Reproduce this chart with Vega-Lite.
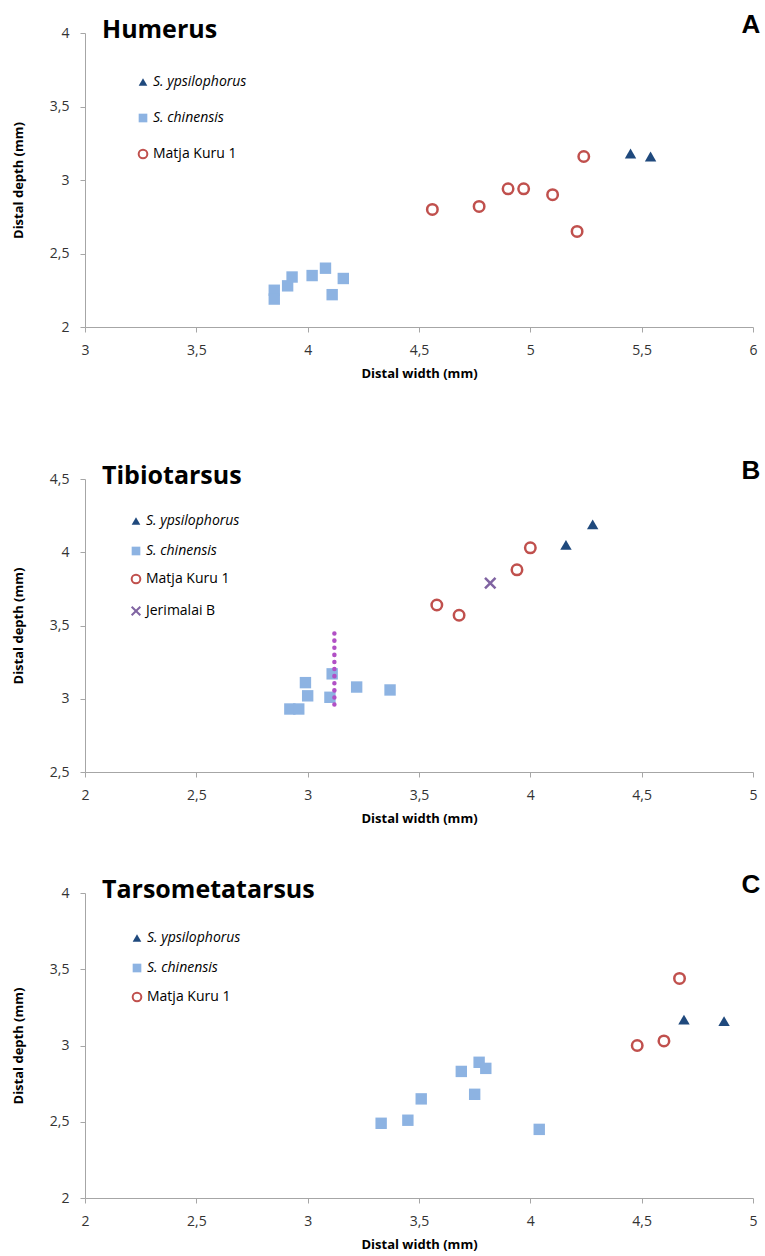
{
  "$schema": "https://vega.github.io/schema/vega-lite/v6.json",
  "padding": {"left": 12, "top": 12, "right": 2, "bottom": 2},
  "background": "white",
  "datasets": {
    "humerus": [
      {"taxon": "S. ypsilophorus", "w": 5.45, "d": 3.18},
      {"taxon": "S. ypsilophorus", "w": 5.54, "d": 3.16},
      {"taxon": "S. chinensis", "w": 3.85, "d": 2.25},
      {"taxon": "S. chinensis", "w": 3.85, "d": 2.19},
      {"taxon": "S. chinensis", "w": 3.91, "d": 2.28},
      {"taxon": "S. chinensis", "w": 3.93, "d": 2.34},
      {"taxon": "S. chinensis", "w": 4.02, "d": 2.35},
      {"taxon": "S. chinensis", "w": 4.08, "d": 2.40},
      {"taxon": "S. chinensis", "w": 4.16, "d": 2.33},
      {"taxon": "S. chinensis", "w": 4.11, "d": 2.22},
      {"taxon": "Matja Kuru 1", "w": 4.56, "d": 2.80},
      {"taxon": "Matja Kuru 1", "w": 4.77, "d": 2.82},
      {"taxon": "Matja Kuru 1", "w": 4.90, "d": 2.94},
      {"taxon": "Matja Kuru 1", "w": 4.97, "d": 2.94},
      {"taxon": "Matja Kuru 1", "w": 5.10, "d": 2.90},
      {"taxon": "Matja Kuru 1", "w": 5.24, "d": 3.16},
      {"taxon": "Matja Kuru 1", "w": 5.21, "d": 2.65}
    ],
    "tibio": [
      {"taxon": "S. ypsilophorus", "w": 4.16, "d": 4.05},
      {"taxon": "S. ypsilophorus", "w": 4.28, "d": 4.19},
      {"taxon": "S. chinensis", "w": 3.11, "d": 3.17},
      {"taxon": "S. chinensis", "w": 2.99, "d": 3.11},
      {"taxon": "S. chinensis", "w": 3.00, "d": 3.02},
      {"taxon": "S. chinensis", "w": 3.10, "d": 3.01},
      {"taxon": "S. chinensis", "w": 3.22, "d": 3.08},
      {"taxon": "S. chinensis", "w": 3.37, "d": 3.06},
      {"taxon": "S. chinensis", "w": 2.92, "d": 2.93},
      {"taxon": "S. chinensis", "w": 2.96, "d": 2.93},
      {"taxon": "Matja Kuru 1", "w": 4.00, "d": 4.03},
      {"taxon": "Matja Kuru 1", "w": 3.94, "d": 3.88},
      {"taxon": "Matja Kuru 1", "w": 3.58, "d": 3.64},
      {"taxon": "Matja Kuru 1", "w": 3.68, "d": 3.57},
      {"taxon": "Jerimalai B", "w": 3.82, "d": 3.79}
    ],
    "range": [
      {"w": 3.12, "d1": 2.96, "d2": 3.45}
    ],
    "tarso": [
      {"taxon": "S. ypsilophorus", "w": 4.69, "d": 3.17},
      {"taxon": "S. ypsilophorus", "w": 4.87, "d": 3.16},
      {"taxon": "S. chinensis", "w": 3.33, "d": 2.49},
      {"taxon": "S. chinensis", "w": 3.45, "d": 2.51},
      {"taxon": "S. chinensis", "w": 3.51, "d": 2.65},
      {"taxon": "S. chinensis", "w": 3.69, "d": 2.83},
      {"taxon": "S. chinensis", "w": 3.77, "d": 2.89},
      {"taxon": "S. chinensis", "w": 3.80, "d": 2.85},
      {"taxon": "S. chinensis", "w": 3.75, "d": 2.68},
      {"taxon": "S. chinensis", "w": 4.04, "d": 2.45},
      {"taxon": "Matja Kuru 1", "w": 4.67, "d": 3.44},
      {"taxon": "Matja Kuru 1", "w": 4.48, "d": 3.00},
      {"taxon": "Matja Kuru 1", "w": 4.60, "d": 3.03}
    ],
    "letters": [
      {"panel": "A"}, {"panel": "B"}, {"panel": "C"}
    ]
  },
  "config": {
    "font": "Open Sans",
    "view": {"stroke": null},
    "axis": {
      "grid": false,
      "domainColor": "#A6A6A6",
      "tickColor": "#A6A6A6",
      "tickSize": 5,
      "labelFont": "Open Sans",
      "labelFontSize": 14,
      "labelColor": "#333333",
      "labelFlush": false,
      "labelOverlap": false,
      "labelExpr": "replace(format(datum.value, '~g'), '.', ',')",
      "titleFont": "Open Sans",
      "titleFontSize": 13,
      "titleFontWeight": "bold",
      "titleColor": "#000000"
    },
    "axisX": {"labelPadding": 11, "titlePadding": 10},
    "axisY": {"labelPadding": 11, "titlePadding": 24},
    "title": {
      "anchor": "start",
      "frame": "group",
      "font": "Open Sans",
      "fontSize": 25,
      "fontWeight": "bold",
      "color": "#000000",
      "dx": 17,
      "offset": -31,
      "baseline": "alphabetic"
    },
    "legend": {
      "title": null,
      "orient": "none",
      "padding": 0,
      "labelFont": "Open Sans",
      "labelFontSize": 14,
      "labelColor": "#000000",
      "labelOffset": 3,
      "symbolSize": 75
    }
  },
  "spacing": 78,
  "vconcat": [
    {
      "width": 668,
      "height": 294,
      "title": {"text": "Humerus"},
      "resolve": {"scale": {"color": "independent", "shape": "independent"}},
      "layer": [
        {
          "data": {"name": "humerus"},
          "transform": [{"filter": "datum.taxon == 'S. ypsilophorus' || datum.taxon == 'S. chinensis'"}],
          "mark": {"type": "point", "filled": true, "opacity": 1, "size": 130},
          "encoding": {
            "x": {"field": "w", "type": "quantitative", "scale": {"domain": [3, 6], "nice": false, "zero": false}, "axis": {"values": [3, 3.5, 4, 4.5, 5, 5.5, 6], "title": "Distal width (mm)"}},
            "y": {"field": "d", "type": "quantitative", "scale": {"domain": [2, 4], "nice": false, "zero": false}, "axis": {"values": [2, 2.5, 3, 3.5, 4], "title": "Distal depth (mm)"}},
            "shape": {"field": "taxon", "type": "nominal", "scale": {"domain": ["S. ypsilophorus", "S. chinensis"], "range": ["triangle-up", "square"]}, "legend": {"legendX": 51, "legendY": 42, "rowPadding": 22, "labelFontStyle": "italic"}},
            "color": {"field": "taxon", "type": "nominal", "scale": {"domain": ["S. ypsilophorus", "S. chinensis"], "range": ["#1F497D", "#8DB3E2"]}, "legend": {"legendX": 51, "legendY": 42, "rowPadding": 22, "labelFontStyle": "italic"}}
          }
        },
        {
          "data": {"name": "humerus"},
          "transform": [{"filter": "datum.taxon == 'Matja Kuru 1'"}],
          "mark": {"type": "point", "filled": false, "opacity": 1, "size": 110, "strokeWidth": 2.5},
          "encoding": {
            "x": {"field": "w", "type": "quantitative"},
            "y": {"field": "d", "type": "quantitative"},
            "shape": {"field": "taxon", "type": "nominal", "scale": {"domain": ["Matja Kuru 1"], "range": ["circle"]}, "legend": {"legendX": 51, "legendY": 114, "rowPadding": 22, "symbolStrokeWidth": 2}},
            "color": {"field": "taxon", "type": "nominal", "scale": {"domain": ["Matja Kuru 1"], "range": ["#C0504D"]}, "legend": {"legendX": 51, "legendY": 114, "rowPadding": 22, "symbolStrokeWidth": 2}}
          }
        },
        {
          "data": {"name": "letters"},
          "transform": [{"filter": "datum.panel == 'A'"}],
          "mark": {"type": "text", "font": "Liberation Sans", "fontSize": 26, "fontWeight": "bold", "align": "center", "baseline": "alphabetic", "color": "#000000"},
          "encoding": {
            "x": {"datum": 5.99, "type": "quantitative"},
            "y": {"datum": 4, "type": "quantitative"},
            "text": {"field": "panel"}
          }
        }
      ]
    },
    {
      "spacing": 47,
      "vconcat": [
        {
          "width": 668,
          "height": 293,
          "title": {"text": "Tibiotarsus"},
          "resolve": {"scale": {"color": "independent", "shape": "independent"}},
          "layer": [
            {
              "data": {"name": "tibio"},
              "transform": [{"filter": "datum.taxon == 'S. ypsilophorus' || datum.taxon == 'S. chinensis'"}],
              "mark": {"type": "point", "filled": true, "opacity": 1, "size": 130},
              "encoding": {
                "x": {"field": "w", "type": "quantitative", "scale": {"domain": [2, 5], "nice": false, "zero": false}, "axis": {"values": [2, 2.5, 3, 3.5, 4, 4.5, 5], "title": "Distal width (mm)"}},
                "y": {"field": "d", "type": "quantitative", "scale": {"domain": [2.5, 4.5], "nice": false, "zero": false}, "axis": {"values": [2.5, 3, 3.5, 4, 4.5], "title": "Distal depth (mm)"}},
                "shape": {"field": "taxon", "type": "nominal", "scale": {"domain": ["S. ypsilophorus", "S. chinensis"], "range": ["triangle-up", "square"]}, "legend": {"legendX": 44, "legendY": 35, "rowPadding": 16, "labelFontStyle": "italic"}},
                "color": {"field": "taxon", "type": "nominal", "scale": {"domain": ["S. ypsilophorus", "S. chinensis"], "range": ["#1F497D", "#8DB3E2"]}, "legend": {"legendX": 44, "legendY": 35, "rowPadding": 16, "labelFontStyle": "italic"}}
              }
            },
            {
              "data": {"name": "tibio"},
              "transform": [{"filter": "datum.taxon == 'Matja Kuru 1' || datum.taxon == 'Jerimalai B'"}],
              "mark": {"type": "point", "filled": false, "opacity": 1, "size": 110, "strokeWidth": 2.5},
              "encoding": {
                "x": {"field": "w", "type": "quantitative"},
                "y": {"field": "d", "type": "quantitative"},
                "shape": {"field": "taxon", "type": "nominal", "scale": {"domain": ["Matja Kuru 1", "Jerimalai B"], "range": ["circle", "M-1,-1L1,1M-1,1L1,-1"]}, "legend": {"legendX": 44, "legendY": 93, "rowPadding": 14, "symbolStrokeWidth": 2}},
                "color": {"field": "taxon", "type": "nominal", "scale": {"domain": ["Matja Kuru 1", "Jerimalai B"], "range": ["#C0504D", "#8064A2"]}, "legend": {"legendX": 44, "legendY": 93, "rowPadding": 14, "symbolStrokeWidth": 2}}
              }
            },
            {
              "data": {"name": "range"},
              "mark": {"type": "rule", "color": "#B150C5", "strokeWidth": 4.5, "strokeDash": [0.1, 7.0], "strokeCap": "round"},
              "encoding": {
                "x": {"field": "w", "type": "quantitative"},
                "y": {"field": "d1", "type": "quantitative"},
                "y2": {"field": "d2"}
              }
            },
            {
              "data": {"name": "letters"},
              "transform": [{"filter": "datum.panel == 'B'"}],
              "mark": {"type": "text", "font": "Liberation Sans", "fontSize": 26, "fontWeight": "bold", "align": "center", "baseline": "alphabetic", "color": "#000000"},
              "encoding": {
                "x": {"datum": 4.99, "type": "quantitative"},
                "y": {"datum": 4.5, "type": "quantitative"},
                "text": {"field": "panel"}
              }
            }
          ]
        },
        {
          "width": 668,
          "height": 305,
          "title": {"text": "Tarsometatarsus"},
          "resolve": {"scale": {"color": "independent", "shape": "independent"}},
          "layer": [
            {
              "data": {"name": "tarso"},
              "transform": [{"filter": "datum.taxon == 'S. ypsilophorus' || datum.taxon == 'S. chinensis'"}],
              "mark": {"type": "point", "filled": true, "opacity": 1, "size": 130},
              "encoding": {
                "x": {"field": "w", "type": "quantitative", "scale": {"domain": [2, 5], "nice": false, "zero": false}, "axis": {"values": [2, 2.5, 3, 3.5, 4, 4.5, 5], "title": "Distal width (mm)"}},
                "y": {"field": "d", "type": "quantitative", "scale": {"domain": [2, 4], "nice": false, "zero": false}, "axis": {"values": [2, 2.5, 3, 3.5, 4], "title": "Distal depth (mm)"}},
                "shape": {"field": "taxon", "type": "nominal", "scale": {"domain": ["S. ypsilophorus", "S. chinensis"], "range": ["triangle-up", "square"]}, "legend": {"legendX": 45, "legendY": 38, "rowPadding": 16, "labelFontStyle": "italic"}},
                "color": {"field": "taxon", "type": "nominal", "scale": {"domain": ["S. ypsilophorus", "S. chinensis"], "range": ["#1F497D", "#8DB3E2"]}, "legend": {"legendX": 45, "legendY": 38, "rowPadding": 16, "labelFontStyle": "italic"}}
              }
            },
            {
              "data": {"name": "tarso"},
              "transform": [{"filter": "datum.taxon == 'Matja Kuru 1'"}],
              "mark": {"type": "point", "filled": false, "opacity": 1, "size": 110, "strokeWidth": 2.5},
              "encoding": {
                "x": {"field": "w", "type": "quantitative"},
                "y": {"field": "d", "type": "quantitative"},
                "shape": {"field": "taxon", "type": "nominal", "scale": {"domain": ["Matja Kuru 1"], "range": ["circle"]}, "legend": {"legendX": 45, "legendY": 97, "rowPadding": 16, "symbolStrokeWidth": 2}},
                "color": {"field": "taxon", "type": "nominal", "scale": {"domain": ["Matja Kuru 1"], "range": ["#C0504D"]}, "legend": {"legendX": 45, "legendY": 97, "rowPadding": 16, "symbolStrokeWidth": 2}}
              }
            },
            {
              "data": {"name": "letters"},
              "transform": [{"filter": "datum.panel == 'C'"}],
              "mark": {"type": "text", "font": "Liberation Sans", "fontSize": 26, "fontWeight": "bold", "align": "center", "baseline": "alphabetic", "color": "#000000"},
              "encoding": {
                "x": {"datum": 4.99, "type": "quantitative"},
                "y": {"datum": 4, "type": "quantitative"},
                "text": {"field": "panel"}
              }
            }
          ]
        }
      ]
    }
  ]
}
